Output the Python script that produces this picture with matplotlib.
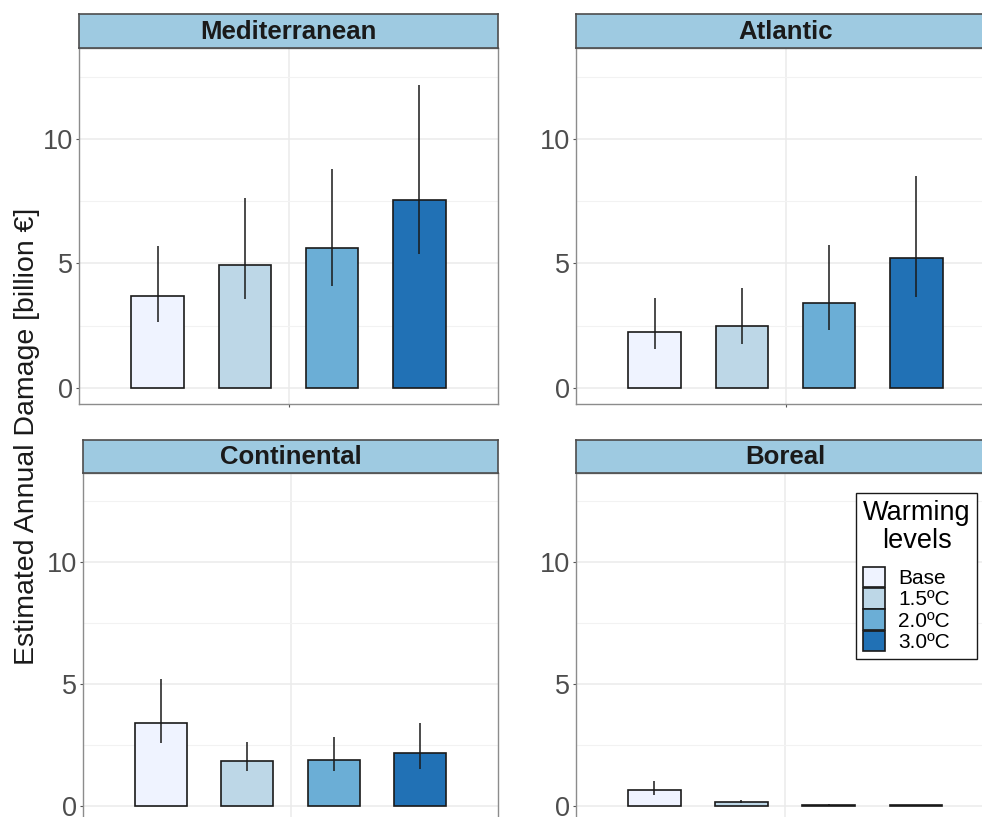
import matplotlib.pyplot as plt
from matplotlib.patches import Patch

plt.rcParams['font.family'] = ['Liberation Sans', 'DejaVu Sans']

regions = ['Mediterranean', 'Atlantic', 'Continental', 'Boreal']
levels = ['Base', '1.5ºC', '2.0ºC', '3.0ºC']
colors = ['#EFF3FF', '#BDD7E7', '#6BAED6', '#2171B5']

# mean estimate and uncertainty range per warming level (billion EUR)
med_mean = [3.67, 4.94, 5.61, 7.55]
med_low = [2.64, 3.56, 4.10, 5.37]
med_high = [5.71, 7.62, 8.80, 12.17]

atl_mean = [2.26, 2.49, 3.40, 5.20]
atl_low = [1.55, 1.78, 2.32, 3.63]
atl_high = [3.59, 3.99, 5.72, 8.49]

con_mean = [3.40, 1.82, 1.87, 2.15]
con_low = [2.56, 1.42, 1.42, 1.49]
con_high = [5.19, 2.60, 2.80, 3.38]

bor_mean = [0.63, 0.15, 0.05, 0.02]
bor_low = [0.44, 0.10, 0.04, 0.01]
bor_high = [1.01, 0.23, 0.06, 0.03]

means = [med_mean, atl_mean, con_mean, bor_mean]
lows = [med_low, atl_low, con_low, bor_low]
highs = [med_high, atl_high, con_high, bor_high]

W, H = 982, 817
fig = plt.figure(figsize=(W / 100, H / 100), dpi=100)


def box(l, t, r, b):
    return [l / W, 1 - b / H, (r - l) / W, (b - t) / H]


# panel boxes in pixels: left, top, right, bottom, strip top
panels = [(79, 48, 498, 404, 14), (576, 48, 995, 404, 14),
          (83, 473, 498, 821.6, 440), (576, 473, 994, 821.6, 440)]

offsets = [-0.375, -0.125, 0.125, 0.375]

for i, name in enumerate(regions):
    l, t, r, b, st = panels[i]
    ax = fig.add_axes(box(l, t, r, b))
    ax.set_xlim(-0.6, 0.6)
    ax.set_ylim(-0.65, 13.65)
    ax.set_yticks([0, 5, 10])
    ax.set_yticks([2.5, 7.5, 12.5], minor=True)
    ax.set_xticks([0])
    ax.set_xticklabels([''])
    ax.grid(True, which='major', color='#EBEBEB', lw=1.1)
    ax.grid(True, which='minor', axis='y', color='#F2F2F2', lw=0.8)
    ax.set_axisbelow(True)
    ax.tick_params(axis='both', which='major', length=2.5, width=0.8,
                   color='#555555', labelcolor='#4D4D4D', labelsize=19.5, pad=2)
    ax.tick_params(axis='y', which='minor', length=0)
    for sp in ax.spines.values():
        sp.set_color('#8C8C8C')
        sp.set_linewidth(1.0)

    ax.bar(offsets, means[i], width=0.15, color=colors,
           edgecolor='#1A1A1A', linewidth=1.2, zorder=2)
    ax.vlines(offsets, lows[i], highs[i], color='#1A1A1A', lw=1.1, zorder=3)

    sax = fig.add_axes(box(l, st, r, t))
    sax.set_facecolor('#9ECAE1')
    sax.set_xticks([])
    sax.set_yticks([])
    for sp in sax.spines.values():
        sp.set_color('#4D4D4D')
        sp.set_linewidth(1.2)
    sax.text(0.5, 0.47, name, ha='center', va='center', fontsize=18.5,
             fontweight='bold', color='#1A1A1A', transform=sax.transAxes)

fig.text(27 / W, 1 - 436 / H, 'Estimated Annual Damage [billion €]',
         rotation=90, ha='center', va='center', fontsize=20.5, color='#1A1A1A')

handles = [Patch(facecolor=c, edgecolor='#1A1A1A', lw=1.2) for c in colors]
leg = fig.legend(handles, levels, title='Warming\nlevels', loc='upper left',
                 bbox_to_anchor=(856 / W, 1 - 493 / H), borderaxespad=0,
                 fontsize=15, title_fontsize=19.5, handlelength=1.05,
                 handleheight=1.14, labelspacing=0.0, handletextpad=0.65,
                 borderpad=0.33, fancybox=False, framealpha=1,
                 edgecolor='#1A1A1A', alignment='left')
leg.get_frame().set_linewidth(1.0)
leg.get_title().set_multialignment('center')
leg.get_title().set_linespacing(1.12)
# a little room between the title and the keys
leg._legend_box.sep = 9

fig.savefig('out.png', dpi=100)
